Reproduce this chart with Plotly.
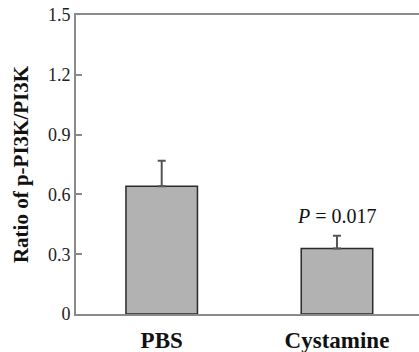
import plotly.graph_objects as go

categories = ["PBS", "Cystamine"]
values = [0.641, 0.328]
errors_up = [0.128, 0.065]
y_ticks = [0, 0.3, 0.6, 0.9, 1.2, 1.5]
y_tick_labels = ["0", "0.3", "0.6", "0.9", "1.2", "1.5"]
p_label = "<i>P</i> = 0.017"
y_title = "Ratio of p-PI3K/PI3K"

serif = "Liberation Serif"

fig = go.Figure()
fig.add_trace(go.Bar(
    x=categories,
    y=values,
    width=0.408,
    marker=dict(color="#b2b2b2", line=dict(color="#2a2a2a", width=1.5)),
    error_y=dict(type="data", array=errors_up, arrayminus=[0, 0], symmetric=False,
                 color="#555555", thickness=2, width=4),
))

fig.add_annotation(x=categories[1], y=values[1] + errors_up[1], yref="y", xref="x",
                   text=p_label, showarrow=False, yanchor="bottom", yshift=7,
                   font=dict(family=serif, size=20, color="#111"))

fig.update_layout(
    width=419, height=352,
    margin=dict(l=76, r=0, t=15, b=38),
    paper_bgcolor="white", plot_bgcolor="white",
    showlegend=False,
    xaxis=dict(range=[-0.489, 1.468], showline=True, linecolor="#8a8a8a", linewidth=2,
               mirror=True, ticks="", showgrid=False, zeroline=False,
               ticklabelstandoff=4,
               tickfont=dict(family=serif, size=23, color="#111", weight="bold")),
    yaxis=dict(range=[0, 1.5], tickvals=y_ticks, ticktext=y_tick_labels,
               showline=True, linecolor="#8a8a8a", linewidth=2,
               ticks="inside", ticklen=6, tickcolor="#8a8a8a", tickwidth=1.5,
               showgrid=False, zeroline=False, ticklabeloverflow="allow",
               tickfont=dict(family=serif, size=18, color="#222"),
               title=dict(text=y_title, standoff=14,
                          font=dict(family=serif, size=21, color="#111", weight="bold"))),
)

fig.write_html("out.html", config={"displayModeBar": False},
               post_script="document.body.style.margin='0';")
